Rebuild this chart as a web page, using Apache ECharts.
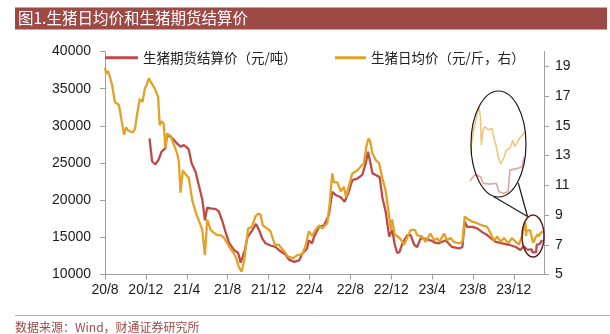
<!DOCTYPE html>
<html><head><meta charset="utf-8">
<script src="https://cdn.jsdelivr.net/npm/echarts@6/dist/echarts.min.js"></script>
<style>html,body{margin:0;padding:0;background:#fff}#c{width:610px;height:334px}</style>
</head><body><div id="c"></div>
<script>
const titleText = '图1.生猪日均价和生猪期货结算价';
const sourceText = '数据来源：Wind，财通证券研究所';
const seriesNames = ['生猪期货结算价（元/吨）', '生猪日均价（元/斤，右）'];
const xTickValues = [0, 4, 8, 12, 16, 20, 24, 28, 32, 36, 40];
const xTickLabels = ['20/8', '20/12', '21/4', '21/8', '21/12', '22/4', '22/8', '22/12', '23/4', '23/8', '23/12'];
const leftTicks = [10000, 15000, 20000, 25000, 30000, 35000, 40000];
const rightTicks = [5, 7, 9, 11, 13, 15, 17, 19];

// 生猪日均价（元/斤）
const spotDates = [
'2020-08-01','2020-08-05','2020-08-10','2020-08-16','2020-08-23','2020-08-31','2020-09-06','2020-09-12','2020-09-20','2020-09-27',
'2020-10-03','2020-10-09','2020-10-17','2020-10-24','2020-10-30','2020-11-06','2020-11-13','2020-11-21','2020-11-28','2020-12-04',
'2020-12-10','2020-12-15','2020-12-20','2020-12-28','2021-01-07','2021-01-12','2021-01-18','2021-01-24','2021-01-29','2021-02-03',
'2021-02-13','2021-02-22','2021-03-02','2021-03-08','2021-03-13','2021-03-20','2021-03-30','2021-04-07','2021-04-17','2021-04-27',
'2021-05-02','2021-05-12','2021-05-17','2021-05-25','2021-06-01','2021-06-11','2021-06-21','2021-06-30','2021-07-10','2021-07-20',
'2021-07-25','2021-08-05','2021-08-20','2021-08-25','2021-09-04','2021-09-12','2021-09-20','2021-10-01','2021-10-13','2021-10-23',
'2021-11-01','2021-11-08','2021-11-14','2021-11-27','2021-12-07','2021-12-20','2022-01-01','2022-01-16','2022-01-29','2022-02-12',
'2022-02-24','2022-03-10','2022-03-20','2022-03-30','2022-04-09','2022-04-19','2022-04-29','2022-05-09','2022-05-24','2022-05-31',
'2022-06-08','2022-06-13','2022-06-23','2022-07-03','2022-07-13','2022-07-19','2022-07-27','2022-08-07','2022-08-22','2022-09-01',
'2022-09-11','2022-09-18','2022-09-24','2022-09-29','2022-10-06','2022-10-16','2022-10-26','2022-11-05','2022-11-15','2022-11-25',
'2022-11-30','2022-12-04','2022-12-12','2022-12-19','2022-12-29','2023-01-09','2023-01-19','2023-01-29','2023-02-10','2023-02-16',
'2023-03-02','2023-03-12','2023-03-27','2023-04-07','2023-04-16','2023-04-23','2023-05-06','2023-05-16','2023-05-26','2023-06-05',
'2023-06-20','2023-06-30','2023-07-07','2023-07-15','2023-07-30','2023-08-14','2023-08-29','2023-09-13','2023-09-23','2023-10-03',
'2023-10-13','2023-10-23','2023-11-02','2023-11-15','2023-11-25','2023-12-07','2023-12-16','2023-12-22','2023-12-27','2023-12-29',
'2024-01-01','2024-01-04','2024-01-06','2024-01-07','2024-01-09','2024-01-11','2024-01-15','2024-01-19','2024-01-21','2024-01-24',
'2024-01-26','2024-01-29','2024-02-02','2024-02-04','2024-02-08','2024-02-11','2024-02-13','2024-02-16','2024-02-18','2024-02-21',
'2024-02-24'];
const spotPrice = [
18.9,18.5,18.7,18.3,17.7,16.6,16.5,16.4,15.3,14.4,
14.9,14.7,14.6,14.6,14.8,15.9,16.8,16.6,17.5,17.8,
18.2,18.0,18.1,17.5,16.95,15.05,15.3,15.15,13.5,14.5,
14.3,13.7,13.2,12.6,10.5,12.0,11.7,11.5,10.0,9.2,
9.1,8.3,8.0,6.3,8.7,8.0,7.8,7.65,7.65,7.5,
7.4,6.9,6.4,6.2,5.5,5.2,6.0,8.1,8.2,8.9,
9.1,9.0,8.3,8.1,7.9,7.0,7.0,6.6,6.2,6.1,
6.3,6.35,6.9,7.9,7.6,8.0,8.3,8.1,8.45,9.7,
11.8,11.2,11.2,10.6,10.9,10.2,10.9,11.8,12.0,12.25,
12.5,13.6,14.15,14.0,13.15,12.7,12.5,11.5,10.6,8.9,
8.0,8.7,7.65,7.6,7.4,7.0,7.5,8.0,8.0,7.65,
7.55,7.2,7.76,7.3,7.45,7.2,7.76,7.3,7.45,7.2,
7.1,7.2,8.9,8.75,8.55,8.45,8.3,8.2,7.76,7.3,
7.55,7.2,7.45,7.1,7.45,7.2,7.0,7.1,7.64,7.91,
8.23,8.5,8.26,7.6,7.95,8.03,7.95,7.99,7.79,7.56,
7.32,7.15,7.32,7.48,7.52,7.71,7.56,7.67,7.75,7.83,
7.91];

// 生猪期货结算价（元/吨）
const futDates = [
'2020-12-12','2020-12-20','2020-12-30','2021-01-09','2021-01-17','2021-01-29','2021-02-03','2021-02-13','2021-02-22','2021-03-03',
'2021-03-13','2021-03-23','2021-03-30','2021-04-07','2021-04-15','2021-04-27','2021-05-07','2021-05-17','2021-05-25','2021-06-01',
'2021-06-11','2021-06-26','2021-07-05','2021-07-15','2021-07-25','2021-08-05','2021-08-20','2021-09-02','2021-09-09','2021-09-14',
'2021-09-21','2021-09-29','2021-10-13','2021-10-25','2021-11-03','2021-11-12','2021-11-22','2021-12-07','2021-12-22','2022-01-01',
'2022-01-21','2022-02-01','2022-02-15','2022-03-01','2022-03-10','2022-03-25','2022-03-30','2022-04-09','2022-04-14','2022-04-29',
'2022-05-14','2022-05-29','2022-06-08','2022-06-18','2022-07-03','2022-07-15','2022-07-27','2022-08-07','2022-08-22','2022-09-06',
'2022-09-16','2022-09-23','2022-09-30','2022-10-06','2022-10-16','2022-10-28','2022-11-05','2022-11-15','2022-11-25','2022-12-04',
'2022-12-12','2022-12-19','2022-12-26','2023-01-04','2023-01-19','2023-01-29','2023-02-08','2023-02-16','2023-02-26','2023-03-12',
'2023-03-27','2023-04-09','2023-04-21','2023-05-11','2023-05-30','2023-06-20','2023-06-30','2023-07-07','2023-07-15','2023-07-30',
'2023-08-14','2023-08-29','2023-09-13','2023-09-23','2023-10-08','2023-10-28','2023-11-17','2023-12-07','2023-12-21','2023-12-31',
'2024-01-02','2024-01-06','2024-01-09','2024-01-17','2024-01-24','2024-01-27','2024-02-01','2024-02-06','2024-02-08','2024-02-16',
'2024-02-21','2024-02-23'];
const futPrice = [
28300,25200,24800,25500,26500,27000,28800,28500,28100,27600,
27200,27400,27200,26800,25000,23800,21900,20100,17300,19000,
18900,18800,18500,17300,15800,14300,13300,12900,11600,11500,
13200,15000,15900,16800,16000,14900,14200,13900,13700,13300,
12700,12000,11700,11900,12800,13500,14600,14200,15000,16400,
16600,18000,21100,20700,20400,19800,21100,22700,22900,23400,
24900,26500,25000,23600,23400,23100,20400,18400,15100,16000,
14000,12900,13000,14200,15300,15300,14000,13700,14900,14800,
14600,14300,14200,14600,13700,13500,13700,17100,16400,16400,
16200,15700,15300,14900,14400,14200,14000,13700,13300,13800,
13750,13700,13390,13350,13390,12990,12920,12990,14010,14090,
14170,14640];

const RED = '#BE4B47', ORANGE = '#E2A226';

function monthIndex(s) {
  const p = s.split('-').map(Number);
  const dim = new Date(p[0], p[1], 0).getDate();
  return (p[0] - 2020) * 12 + (p[1] - 8) + (p[2] - 1) / dim;
}
const futData = futDates.map((d, i) => [monthIndex(d), futPrice[i]]);
const spotData = spotDates.map((d, i) => [monthIndex(d), spotPrice[i]]);

const chart = echarts.init(document.getElementById('c'), null, {renderer: 'canvas'});
const axisFont = {fontFamily: '"Liberation Sans", Arial, sans-serif', fontSize: 14, color: '#1a1a1a'};
const axisLineStyle = {color: '#A0A0A0', width: 1};
const cjk = '"Noto Sans CJK SC", sans-serif';

chart.setOption({
  animation: false,
  backgroundColor: '#fff',
  grid: [
    {left: 105, top: 51.5, width: 439, height: 223},
    {left: 471.7, top: 90, width: 53.5, height: 108}
  ],
  legend: [
    {data: [seriesNames[0]], left: 100, top: 46, itemWidth: 33, itemHeight: 3, icon: 'rect', itemGap: 4,
     textStyle: {fontFamily: cjk, fontSize: 13.5, color: '#222'}},
    {data: [seriesNames[1]], left: 330, top: 46, itemWidth: 31, itemHeight: 3, icon: 'rect', itemGap: 4,
     textStyle: {fontFamily: cjk, fontSize: 13.5, color: '#222'}}
  ],
  xAxis: [
    {type: 'value', gridIndex: 0, min: 0, max: 42.95, interval: 4,
     splitLine: {show: false},
     axisLine: {show: true, lineStyle: axisLineStyle},
     axisTick: {show: true, length: 5, lineStyle: axisLineStyle, customValues: xTickValues},
     axisLabel: Object.assign({margin: 9, customValues: xTickValues,
       formatter: v => { const i = xTickValues.indexOf(Math.round(v)); return (i >= 0 && Math.abs(v - Math.round(v)) < 1e-6) ? xTickLabels[i] : ''; }}, axisFont)},
    {type: 'value', gridIndex: 1, min: 40.84, max: 42.80, show: false}
  ],
  yAxis: [
    {type: 'value', gridIndex: 0, min: leftTicks[0], max: leftTicks[leftTicks.length - 1], interval: 5000,
     splitLine: {show: false},
     axisLine: {show: true, lineStyle: axisLineStyle},
     axisTick: {show: true, length: 5, lineStyle: axisLineStyle},
     axisLabel: Object.assign({margin: 14, formatter: v => String(v)}, axisFont)},
    {type: 'value', gridIndex: 0, position: 'right', min: 5, max: 20, interval: 2,
     splitLine: {show: false},
     axisLine: {show: true, lineStyle: axisLineStyle},
     axisTick: {show: true, length: 5, lineStyle: axisLineStyle, customValues: rightTicks},
     axisLabel: Object.assign({margin: 11, customValues: rightTicks, formatter: v => String(v)}, axisFont)},
    {type: 'value', gridIndex: 1, min: 6.347, max: 8.894, show: false},
    {type: 'value', gridIndex: 1, min: 12694, max: 17788, show: false}
  ],
  series: [
    {name: seriesNames[0], type: 'line', xAxisIndex: 0, yAxisIndex: 0, data: futData, showSymbol: false, symbol: 'none',
     lineStyle: {color: RED, width: 2.3}, itemStyle: {color: RED}, z: 2},
    {name: seriesNames[1], type: 'line', xAxisIndex: 0, yAxisIndex: 1, data: spotData, showSymbol: false, symbol: 'none',
     lineStyle: {color: ORANGE, width: 2.3}, itemStyle: {color: ORANGE}, z: 3},
    {name: 'inset-fut', type: 'line', xAxisIndex: 1, yAxisIndex: 3, data: futData, symbol: 'none', clip: true,
     lineStyle: {color: '#E3A3A0', width: 1.6}, z: 4},
    {name: 'inset-spot', type: 'line', xAxisIndex: 1, yAxisIndex: 2, data: spotData, symbol: 'none', clip: true,
     lineStyle: {color: '#F0C67E', width: 1.6}, z: 4}
  ],
  graphic: [
    {type: 'rect', shape: {x: 15, y: 7.5, width: 592, height: 22}, style: {fill: '#9D4946'}, z: 10},
    {type: 'text', x: 18, y: 18.5, style: {text: titleText, fill: '#fff', font: '15.5px ' + cjk, verticalAlign: 'middle'}, z: 11},
    {type: 'line', shape: {x1: 15, y1: 315.5, x2: 610, y2: 315.5}, style: {stroke: '#D4A9A7', lineWidth: 1}, z: 10},
    {type: 'text', x: 15, y: 327, style: {text: sourceText, fill: '#9D4946', font: '12px ' + cjk, verticalAlign: 'middle'}, z: 11},
    {type: 'ellipse', shape: {cx: 498.5, cy: 144, rx: 27.5, ry: 53}, style: {fill: 'none', stroke: '#1a1a1a', lineWidth: 1.2}, z: 20},
    {type: 'ellipse', shape: {cx: 533, cy: 236, rx: 11, ry: 21}, style: {fill: 'none', stroke: '#5B1F1F', lineWidth: 1.5}, z: 20},
    {type: 'line', shape: {x1: 493.5, y1: 196.5, x2: 527.5, y2: 216.5}, style: {stroke: '#1a1a1a', lineWidth: 1.2}, z: 20},
    {type: 'line', shape: {x1: 518.3, y1: 183, x2: 527.5, y2: 216.5}, style: {stroke: '#1a1a1a', lineWidth: 1.2}, z: 20}
  ]
});
</script>
</body></html>
